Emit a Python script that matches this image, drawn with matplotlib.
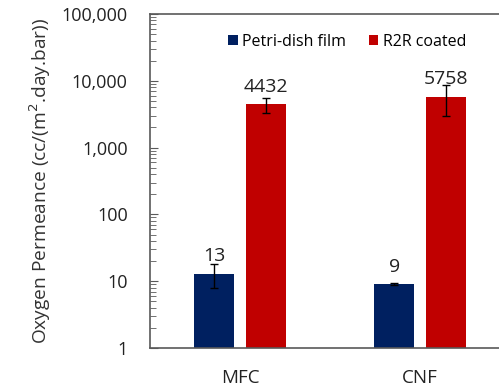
import matplotlib
matplotlib.use("Agg")
import matplotlib.pyplot as plt
import numpy as np
from matplotlib.ticker import FixedLocator, LogLocator, NullFormatter

plt.rcParams['font.family'] = ['Open Sans', 'DejaVu Sans']

categories = ["MFC", "CNF"]
series_names = ["Petri-dish film", "R2R coated"]
petri_values = [13, 9]
petri_errors = [5, 0.3]
r2r_values = [4432, 5758]
r2r_errors = [1100, 2800]
colors = ["#002060", "#C00000"]
ytick_values = [1, 10, 100, 1000, 10000, 100000]
ytick_labels = ["1", "10", "100", "1,000", "10,000", "100,000"]

W, H = 499, 388
fig = plt.figure(figsize=(W / 100, H / 100), dpi=100)
ax = fig.add_axes([150 / W, 1 - 348 / H, 360 / W, 334 / H])

x = np.arange(len(categories))
bw = 0.222
off = 0.144
edge = "#595959"

ax.bar(x - off, petri_values, bw, color=colors[0], label=series_names[0], zorder=2)
ax.bar(x + off, r2r_values, bw, color=colors[1], label=series_names[1], zorder=2)
ax.errorbar(x - off, petri_values, yerr=petri_errors, fmt="none", ecolor="black",
            elinewidth=1, capsize=3, capthick=1, zorder=3)
ax.errorbar(x + off, r2r_values, yerr=r2r_errors, fmt="none", ecolor="black",
            elinewidth=1, capsize=3, capthick=1, zorder=3)

for xs, vals in ((x - off, petri_values), (x + off, r2r_values)):
    for xi, v in zip(xs, vals):
        ax.annotate(f"{v}", (xi, v), xytext=(0, 6), textcoords="offset points",
                    ha="center", va="bottom", fontsize=14, color="#222222")

ax.set_yscale("log")
ax.set_ylim(1, 100000)
ax.set_xlim(-0.5, 1.5)
ax.yaxis.set_major_locator(FixedLocator(ytick_values))
ax.set_yticklabels(ytick_labels)
ax.yaxis.set_minor_locator(LogLocator(base=10, subs=np.arange(2, 10)))
ax.yaxis.set_minor_formatter(NullFormatter())
ax.tick_params(axis="y", which="major", direction="in", length=6, width=0.8,
               color=edge, labelsize=13, labelcolor="#222222", pad=16)
ax.tick_params(axis="y", which="minor", direction="in", length=4, width=0.6, color=edge)
ax.set_xticks(x)
ax.set_xticklabels(categories)
ax.tick_params(axis="x", length=0, labelsize=13.5, labelcolor="#222222", pad=15)

for s in ("left", "bottom", "top", "right"):
    ax.spines[s].set_color(edge)
    ax.spines[s].set_linewidth(1.2)

ax.set_ylabel("Oxygen Permeance (cc/(m$^2$.day.bar))", fontsize=13.8, color="#333333",
              labelpad=6)

ax.legend(loc="upper left", bbox_to_anchor=(70 / 360, 1 - 12 / 334), ncol=2, frameon=False,
          fontsize=11.5, handlelength=0.6, handleheight=0.6, handletextpad=0.3,
          columnspacing=1.4, borderpad=0)

fig.savefig("out.png", dpi=100)
